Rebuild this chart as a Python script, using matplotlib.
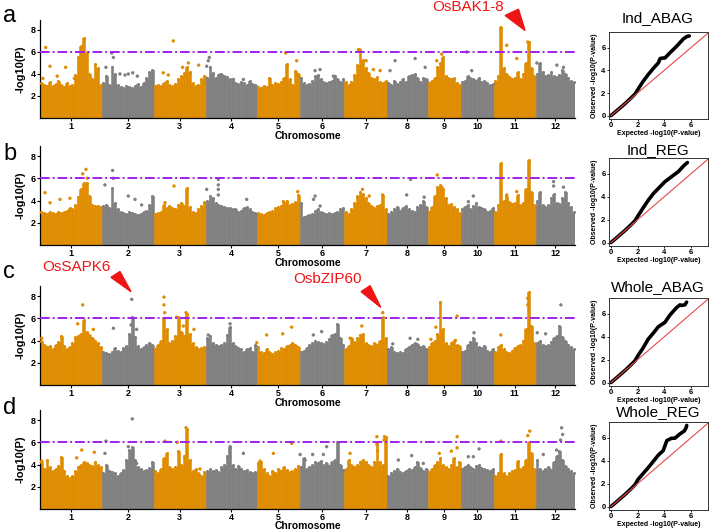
import numpy as np
import matplotlib
matplotlib.use("Agg")
import matplotlib.pyplot as plt
from matplotlib.patches import Polygon

plt.rcParams['font.family'] = ['Liberation Sans', 'DejaVu Sans']

# rice chromosome lengths, Mb
chr_names = [str(i) for i in range(1, 13)]
chr_len = [43.27, 35.94, 36.41, 35.50, 29.96, 31.25, 29.70, 28.44, 23.01, 23.21, 29.02, 27.53]

# local top of the -log10(P) cloud, ~2 Mb steps along each chromosome
ind_abag = [
    [3.2, 3.0, 2.9, 3.3, 2.9, 3.1, 3.4, 3.0, 2.8, 3.2, 2.9, 3.0, 3.9, 5.5, 6.5, 7.3, 6.0, 4.0, 3.5, 4.9, 4.5, 3.0],
    [3.2, 3.8, 3.0, 4.6, 4.0, 3.0, 2.8, 2.7, 2.9, 2.8, 2.7, 2.9, 3.1, 2.8, 3.2, 3.6, 4.2, 4.4],
    [2.9, 3.0, 2.9, 3.2, 3.4, 3.0, 2.9, 3.1, 3.5, 3.8, 4.1, 4.6, 4.2, 3.2, 2.9, 3.0, 3.5, 3.8],
    [3.6, 4.6, 4.1, 3.6, 3.9, 4.0, 3.8, 3.7, 3.5, 3.4, 3.2, 3.1, 3.3, 3.2, 3.0, 3.4, 3.1, 3.0],
    [2.8, 2.7, 2.9, 2.8, 3.6, 3.0, 3.2, 3.1, 3.3, 3.6, 4.9, 3.5, 3.0, 4.3, 4.0],
    [3.6, 3.2, 3.0, 3.1, 3.4, 3.8, 3.9, 3.5, 3.3, 3.2, 3.3, 3.4, 3.8, 3.5, 3.3, 3.5],
    [3.3, 3.0, 3.3, 3.9, 4.8, 6.2, 5.3, 4.5, 4.1, 3.6, 3.5, 3.7, 3.3, 3.2, 3.4],
    [3.2, 3.0, 3.4, 3.1, 3.3, 3.5, 3.3, 3.8, 3.9, 4.0, 3.6, 3.3, 3.6, 3.5],
    [3.2, 3.4, 3.6, 4.6, 5.0, 5.5, 3.8, 3.6, 3.5, 3.6, 3.2, 3.0],
    [3.3, 3.4, 3.8, 3.6, 3.5, 3.4, 3.6, 3.3, 3.4, 3.2, 3.0, 3.1],
    [3.4, 3.8, 8.2, 4.5, 4.0, 3.7, 3.5, 3.6, 4.2, 3.5, 4.0, 5.0, 6.9, 4.5, 3.8],
    [4.0, 5.0, 4.2, 3.8, 3.9, 4.2, 3.8, 3.7, 3.9, 4.4, 4.0, 3.6, 3.4, 3.3],
]
ind_reg = [
    [3.0, 2.9, 2.8, 3.0, 2.9, 2.8, 3.0, 2.9, 3.0, 3.1, 3.3, 3.2, 3.6, 4.3, 5.0, 5.6, 5.6, 4.4, 3.6, 3.5, 3.5, 3.4],
    [3.5, 3.6, 3.3, 5.1, 3.8, 3.2, 3.0, 2.9, 2.8, 3.0, 2.9, 2.8, 2.7, 2.8, 3.0, 3.1, 3.6, 4.4],
    [2.8, 2.9, 3.0, 3.6, 3.3, 3.5, 3.3, 3.2, 3.6, 3.8, 3.5, 5.1, 3.4, 3.0, 2.9, 3.2, 3.5, 3.9],
    [4.0, 4.4, 4.2, 3.8, 3.6, 3.5, 3.4, 3.3, 3.3, 3.2, 3.2, 3.0, 3.1, 3.3, 3.4, 3.2, 3.0, 2.9],
    [2.9, 2.8, 2.7, 2.9, 3.0, 3.1, 3.3, 3.4, 3.5, 3.8, 3.9, 3.6, 3.7, 3.9, 4.5],
    [3.8, 2.5, 2.6, 2.7, 2.8, 3.1, 3.2, 3.0, 2.9, 2.8, 2.9, 2.8, 2.9, 3.0, 3.2, 3.3],
    [3.0, 2.8, 3.2, 3.8, 4.4, 4.8, 4.6, 4.2, 3.8, 3.5, 3.3, 3.5, 3.6, 4.4, 3.2],
    [2.8, 3.0, 3.2, 3.4, 3.1, 3.3, 3.5, 3.2, 3.1, 3.0, 3.4, 3.6, 4.0, 3.4],
    [3.0, 3.4, 4.4, 5.2, 5.4, 5.0, 4.2, 3.6, 3.7, 3.4, 3.2, 2.9],
    [3.2, 3.4, 3.6, 3.2, 3.5, 3.8, 3.4, 3.3, 3.2, 3.0, 3.1, 3.3],
    [3.0, 3.6, 7.4, 4.0, 4.4, 3.9, 3.7, 3.8, 4.5, 3.6, 3.8, 5.0, 7.6, 4.8, 3.6],
    [4.0, 4.8, 3.6, 3.4, 3.6, 4.2, 4.6, 3.8, 3.7, 4.2, 4.8, 3.8, 3.4, 3.0],
]
whole_abag = [
    [4.0, 3.6, 3.4, 3.5, 3.2, 3.6, 3.9, 4.4, 3.5, 3.2, 3.4, 3.8, 4.3, 4.4, 4.6, 5.8, 4.8, 4.5, 4.2, 4.0, 3.8, 3.4],
    [3.0, 2.9, 2.8, 3.0, 3.3, 3.1, 3.0, 3.3, 3.5, 4.6, 6.1, 4.3, 3.5, 3.2, 3.4, 3.6, 3.8, 3.6],
    [3.2, 3.6, 4.0, 6.0, 5.0, 3.8, 4.0, 4.4, 6.1, 4.8, 4.4, 6.4, 4.6, 3.8, 3.4, 3.2, 3.3, 3.4],
    [4.2, 4.4, 3.8, 3.6, 3.5, 3.6, 3.8, 4.5, 5.2, 3.8, 3.5, 3.3, 3.2, 3.0, 3.2, 3.3, 3.0, 3.6],
    [3.4, 3.0, 2.9, 3.2, 3.0, 2.8, 3.0, 3.1, 3.3, 3.2, 3.5, 3.6, 3.8, 3.6, 3.4],
    [3.0, 3.1, 3.3, 3.6, 3.8, 4.0, 3.9, 3.8, 3.7, 3.9, 4.1, 4.5, 4.6, 5.5, 4.2, 3.6],
    [3.2, 3.5, 4.2, 3.9, 4.2, 4.5, 4.6, 3.8, 3.6, 3.5, 3.8, 3.6, 4.0, 6.1, 4.2],
    [3.2, 3.4, 3.0, 2.9, 3.0, 2.9, 3.2, 3.4, 3.6, 3.8, 3.7, 3.4, 3.5, 3.2],
    [3.4, 3.8, 4.0, 4.6, 7.5, 5.0, 3.8, 3.5, 3.8, 4.0, 3.6, 3.5],
    [3.0, 3.1, 3.6, 3.9, 4.2, 3.8, 3.4, 3.3, 3.5, 3.1, 3.0, 3.2],
    [3.0, 3.4, 3.6, 3.2, 3.0, 2.9, 3.1, 3.3, 3.5, 3.6, 4.0, 5.0, 8.4, 5.3, 3.8],
    [3.8, 4.0, 3.6, 3.5, 3.6, 3.9, 4.2, 4.4, 5.3, 4.3, 4.0, 3.6, 3.4, 3.2],
]
whole_reg = [
    [4.2, 3.6, 4.4, 3.8, 3.4, 3.6, 3.9, 4.7, 3.4, 3.0, 2.8, 3.0, 3.4, 3.8, 4.0, 4.2, 4.1, 4.0, 3.9, 4.2, 4.0, 3.8],
    [3.2, 4.0, 3.4, 3.3, 3.2, 3.0, 3.2, 3.5, 4.4, 5.3, 5.6, 4.4, 3.8, 3.6, 3.4, 3.5, 3.7, 4.2],
    [3.4, 3.2, 3.6, 4.6, 5.0, 3.8, 3.6, 3.8, 5.2, 4.0, 4.8, 7.2, 4.4, 3.4, 3.6, 3.2, 3.0, 3.3],
    [3.4, 3.6, 3.4, 3.5, 3.3, 3.8, 4.0, 4.8, 5.6, 4.0, 3.6, 3.9, 3.6, 3.4, 3.5, 3.3, 3.2, 3.3],
    [4.1, 4.2, 3.6, 3.2, 3.0, 3.4, 3.2, 3.6, 3.4, 3.8, 3.5, 3.3, 3.4, 3.6, 3.9],
    [3.8, 4.6, 3.6, 3.8, 4.0, 4.2, 4.1, 4.3, 4.0, 4.1, 3.9, 4.2, 4.4, 6.0, 4.0, 3.5],
    [3.6, 4.4, 4.0, 3.8, 4.0, 4.2, 4.4, 4.2, 4.0, 3.8, 4.2, 6.0, 4.2, 4.0, 6.5],
    [3.0, 3.2, 3.4, 3.6, 3.3, 3.2, 3.4, 3.6, 3.5, 3.8, 4.2, 3.7, 3.4, 3.6],
    [3.3, 3.6, 4.0, 4.2, 4.6, 4.0, 3.8, 3.6, 4.0, 4.6, 3.8, 4.2],
    [3.6, 3.8, 4.0, 3.8, 3.6, 3.9, 4.0, 3.7, 3.6, 3.5, 3.4, 3.6],
    [3.0, 3.2, 4.9, 3.2, 3.0, 3.2, 3.4, 3.5, 4.3, 3.6, 3.8, 4.4, 6.0, 5.0, 3.6],
    [4.4, 3.6, 3.4, 3.6, 3.8, 3.5, 4.2, 4.8, 5.2, 4.4, 3.9, 3.6, 3.4, 3.2],
]

# isolated SNPs above the cloud: cumulative position (Mb), -log10(P)
ind_abag_pos = [4.0, 7.0, 17.9, 12.0, 2.0, 24.0, 50.0, 51.2, 46.0, 55.8, 59.3, 61.6, 64.7, 67.9, 93.0, 99.5,
                103.5, 110.7, 89.5, 86.0, 118.1, 117.4, 116.3, 125.6, 134.9, 141.9, 171.4, 179.1, 191.9, 195.4,
                204.7, 222.1, 223.0, 232.6, 237.3, 227.5, 247.7, 244.2, 261.7, 268.7, 276.8, 280.3, 297.7, 301.2,
                321.5, 325.6, 332.6, 340.3, 346.6, 360.6, 365.2]
ind_abag_val = [6.4, 4.7, 4.6, 3.8, 3.6, 3.6, 5.9, 5.5, 4.6, 4.0, 3.9, 4.0, 4.1, 3.8, 7.0, 4.6,
                5.0, 4.8, 3.9, 4.1, 5.5, 5.2, 4.7, 3.9, 3.5, 3.5, 5.9, 5.2, 4.3, 4.4,
                3.8, 6.2, 6.2, 4.4, 4.3, 5.2, 5.2, 4.3, 5.4, 4.6, 5.2, 5.8, 6.0, 4.3,
                8.2, 6.6, 5.4, 6.9, 5.0, 4.8, 4.6]
ind_reg_pos = [3.5, 7.0, 14.0, 20.9, 29.8, 32.1, 33.0, 45.3, 50.7, 51.2, 61.6, 66.3, 70.9, 93.5, 87.2,
               124.4, 124.4, 124.4, 124.4, 144.2, 116.3, 179.8, 169.8, 172.5, 191.9, 190.8, 195.4, 225.0,
               229.7, 239.0, 255.8, 258.6, 268.0, 277.1, 280.3, 302.3, 298.8, 332.6, 325.6, 358.3, 358.3, 365.2]
ind_reg_val = [4.7, 3.8, 4.1, 4.2, 6.4, 6.8, 6.0, 5.4, 6.7, 6.0, 4.4, 4.1, 3.6, 5.3, 3.8,
               5.9, 5.4, 5.0, 4.5, 4.1, 5.0, 4.8, 3.9, 3.9, 4.4, 4.1, 3.5, 5.0,
               4.4, 4.5, 4.5, 5.9, 4.3, 6.3, 5.2, 4.4, 3.9, 4.8, 4.5, 5.7, 5.3, 5.2]
whole_abag_pos = [1.2, 29.8, 26.3, 37.2, 64.0, 51.2, 67.4, 63.5, 86.5, 86.5, 87.0, 95.3, 101.9, 100.0,
                  107.4, 132.6, 117.4, 158.1, 169.3, 175.6, 151.2, 190.7, 196.5, 239.1, 224.5, 216.3,
                  246.1, 258.2, 263.6, 291.0, 276.2, 272.7, 289.8, 302.8, 340.3, 340.3, 321.5, 363.4,
                  346.9, 352.7]
whole_abag_val = [4.2, 7.2, 5.5, 5.0, 7.7, 5.1, 5.0, 5.4, 7.9, 7.2, 6.5, 6.1, 6.5, 5.3,
                  5.0, 5.5, 4.5, 4.5, 4.6, 5.2, 3.8, 4.5, 4.8, 6.5, 5.3, 4.2,
                  3.7, 4.2, 4.1, 6.2, 5.2, 4.1, 4.0, 4.7, 7.8, 7.2, 4.5, 7.2,
                  4.7, 4.6]
whole_reg_pos = [29.1, 37.9, 25.6, 1.2, 64.4, 46.0, 45.3, 61.6, 67.4, 87.2, 95.8, 101.9, 111.6, 132.6,
                 141.9, 162.8, 175.6, 153.5, 181.5, 185.0, 190.2, 197.7, 200.0, 235.0, 235.0, 235.5,
                 240.3, 240.0, 216.3, 250.0, 259.3, 267.4, 291.0, 291.0, 287.0, 278.6, 298.8, 306.3,
                 302.3, 341.7, 340.3, 321.5, 363.9, 364.6, 363.2, 360.4, 351.1]
whole_reg_val = [5.3, 5.1, 4.6, 4.3, 8.1, 6.1, 5.0, 5.6, 4.1, 6.1, 6.0, 7.3, 3.6, 5.6,
                 5.0, 5.0, 5.9, 4.3, 4.9, 4.4, 4.9, 4.9, 5.6, 6.5, 5.8, 5.2,
                 6.5, 6.2, 5.0, 4.4, 4.8, 4.1, 6.5, 5.5, 5.2, 5.0, 4.7, 5.4,
                 4.7, 7.0, 6.6, 6.1, 7.3, 6.7, 6.2, 5.3, 4.9]

# QQ curves: expected vs observed -log10(P-value)
qq_names = ['Ind_ABAG', 'Ind_REG', 'Whole_ABAG', 'Whole_REG']
qq_a_exp = [0, 0.5, 1.0, 1.5, 1.8, 2.05, 2.4, 2.8, 3.2, 3.56, 3.7, 3.9, 4.06, 4.43, 4.94, 5.44, 5.7, 5.89]
qq_a_obs = [0, 0.5, 1.0, 1.55, 1.9, 2.36, 3.0, 3.63, 4.2, 4.66, 5.05, 5.1, 5.1, 5.55, 6.14, 6.78, 7.0, 7.05]
qq_b_exp = [0, 0.5, 1.0, 1.5, 1.8, 2.05, 2.4, 2.8, 3.2, 3.56, 4.06, 4.56, 5.06, 5.5, 5.75]
qq_b_obs = [0, 0.5, 1.0, 1.55, 1.9, 2.37, 3.0, 3.7, 4.3, 4.73, 5.33, 5.77, 6.2, 6.75, 7.0]
qq_c_exp = [0, 0.5, 1.0, 1.5, 1.8, 2.05, 2.4, 2.8, 3.2, 3.56, 4.06, 4.43, 4.94, 5.19, 5.3, 5.56, 5.69]
qq_c_obs = [0, 0.5, 1.0, 1.55, 1.9, 2.4, 3.0, 3.8, 4.35, 4.88, 5.27, 5.9, 6.57, 6.8, 6.75, 6.8, 7.04]
qq_d_exp = [0, 0.5, 1.0, 1.5, 1.8, 2.05, 2.8, 3.56, 3.93, 4.2, 4.56, 4.81, 5.19, 5.5, 5.64, 5.7]
qq_d_obs = [0, 0.5, 1.0, 1.55, 1.9, 2.4, 3.4, 4.5, 4.9, 5.77, 5.98, 5.98, 6.36, 6.6, 6.86, 7.1]

# gene labels: panel, text, text centre (Mb, y), arrow triangle (Mb, y)
gene_panel = [0, 2, 2]
gene_text = ['OsBAK1-8', 'OsSAPK6', 'OsbZIP60']
gene_xy = [(298.7, 10.1), (25.1, 10.6), (200.6, 9.55)]
gene_tri = [[(324.5, 9.31), (333.8, 9.88), (338.4, 7.95)],
            [(49.5, 9.68), (55.8, 10.2), (63.5, 8.39)],
            [(224.0, 8.39), (230.3, 8.93), (237.7, 6.98)]]

ORANGE = '#E08C00'
GREY = '#808080'
PURPLE = '#A020F0'
W, H = 709, 532

chr_start = np.concatenate([[0], np.cumsum(chr_len)[:-1]])
total = float(np.sum(chr_len))
chr_mid = chr_start + np.array(chr_len) / 2

fig = plt.figure(figsize=(W / 100, H / 100), dpi=100)


def fig_box(left, top, right, bottom):
    return [left / W, 1 - bottom / H, (right - left) / W, (bottom - top) / H]


def manhattan(ax, bins, opos, oval, xlab_y):
    for i, vals in enumerate(bins):
        col = ORANGE if i % 2 == 0 else GREY
        n = len(vals)
        w = chr_len[i] / n
        x = chr_start[i] + (np.arange(n) + 0.5) * w
        ax.bar(x, vals, width=w, color=col, edgecolor=col, linewidth=0.4, zorder=2)
        ax.scatter(x, vals, s=5, color=col, linewidths=0, zorder=3)
    opos = np.asarray(opos)
    k = np.searchsorted(chr_start, opos, side='right') - 1
    cols = [ORANGE if j % 2 == 0 else GREY for j in k]
    ax.scatter(opos, oval, s=6, c=cols, linewidths=0, zorder=3)
    ax.axhline(6, color=PURPLE, lw=1.4, dashes=(5, 1.5, 1, 1.5), zorder=4)
    ax.set_xlim(0, total)
    ax.set_ylim(0, 8.9)
    ax.set_xticks(chr_mid)
    ax.set_xticklabels(chr_names)
    ax.set_yticks([2, 4, 6, 8])
    for s in ['top', 'right']:
        ax.spines[s].set_visible(False)
    for s in ['left', 'bottom']:
        ax.spines[s].set_linewidth(0.9)
    ax.tick_params(length=2, width=0.8, pad=1, labelsize=6.5)
    for t in ax.get_xticklabels() + ax.get_yticklabels():
        t.set_fontweight('bold')
    ax.set_ylabel('-log10(P)', fontsize=8, fontweight='bold')
    ax.yaxis.set_label_coords(-0.026, 0.5)
    ax.set_xlabel('Chromosome', fontsize=7.5, fontweight='bold')
    ax.xaxis.set_label_coords(0.5, xlab_y)


def qqplot(ax, ex, ob):
    ax.plot(ex, ob, color='black', lw=2.6, solid_capstyle='round', solid_joinstyle='round', zorder=2)
    ax.plot([0, 8], [0, 8], color='#E5484A', lw=0.8, zorder=3)
    ax.set_xlim(-0.15, 7.3)
    ax.set_ylim(-0.3, 7.4)
    ax.set_xticks([0, 2, 4, 6])
    ax.set_yticks([0, 2, 4, 6])
    for s in ax.spines.values():
        s.set_linewidth(0.7)
        s.set_color('#333333')
    ax.tick_params(length=1.5, width=0.6, pad=1, labelsize=5.5)
    for t in ax.get_xticklabels() + ax.get_yticklabels():
        t.set_fontweight('bold')
    ax.set_xlabel('Expected -log10(P-value)', fontsize=5, fontweight='bold')
    ax.xaxis.set_label_coords(0.5, -0.125)
    ax.set_ylabel('Observed -log10(P-value)', fontsize=5, fontweight='bold')
    ax.yaxis.set_label_coords(-0.115, 0.5)


man_boxes = [(40, 20, 575, 118), (40, 146, 575, 245), (40, 286, 575, 385), (40, 410, 575, 509)]
qq_boxes = [(609, 32, 708, 119), (609, 158, 708, 246), (609, 298, 708, 386), (609, 422, 708, 510)]
xlab_pos = [-0.13, -0.13, -0.13, -0.125]
letters = ['a', 'b', 'c', 'd']
letter_base = [22, 160, 278, 414]
title_mid = [18, 150, 287, 412]

man_data = [(ind_abag, ind_abag_pos, ind_abag_val), (ind_reg, ind_reg_pos, ind_reg_val),
            (whole_abag, whole_abag_pos, whole_abag_val), (whole_reg, whole_reg_pos, whole_reg_val)]
qq_data = [(qq_a_exp, qq_a_obs), (qq_b_exp, qq_b_obs), (qq_c_exp, qq_c_obs), (qq_d_exp, qq_d_obs)]

man_axes = []
for p in range(4):
    ax = fig.add_axes(fig_box(*man_boxes[p]))
    manhattan(ax, *man_data[p], xlab_pos[p])
    man_axes.append(ax)
    fig.text(3 / W, 1 - letter_base[p] / H, letters[p], fontsize=17, va='baseline', ha='left')

    qa = fig.add_axes(fig_box(*qq_boxes[p]))
    qqplot(qa, *qq_data[p])
    fig.text(658 / W, 1 - title_mid[p] / H, qq_names[p], fontsize=11, ha='center', va='center')

for p, txt, xy, tri in zip(gene_panel, gene_text, gene_xy, gene_tri):
    ax = man_axes[p]
    ax.text(xy[0], xy[1], txt, color='#F01414', fontsize=11, ha='center', va='center', clip_on=False)
    ax.add_patch(Polygon(tri, closed=True, color='#F01414', clip_on=False, zorder=5))

fig.savefig('out.png', dpi=100)
